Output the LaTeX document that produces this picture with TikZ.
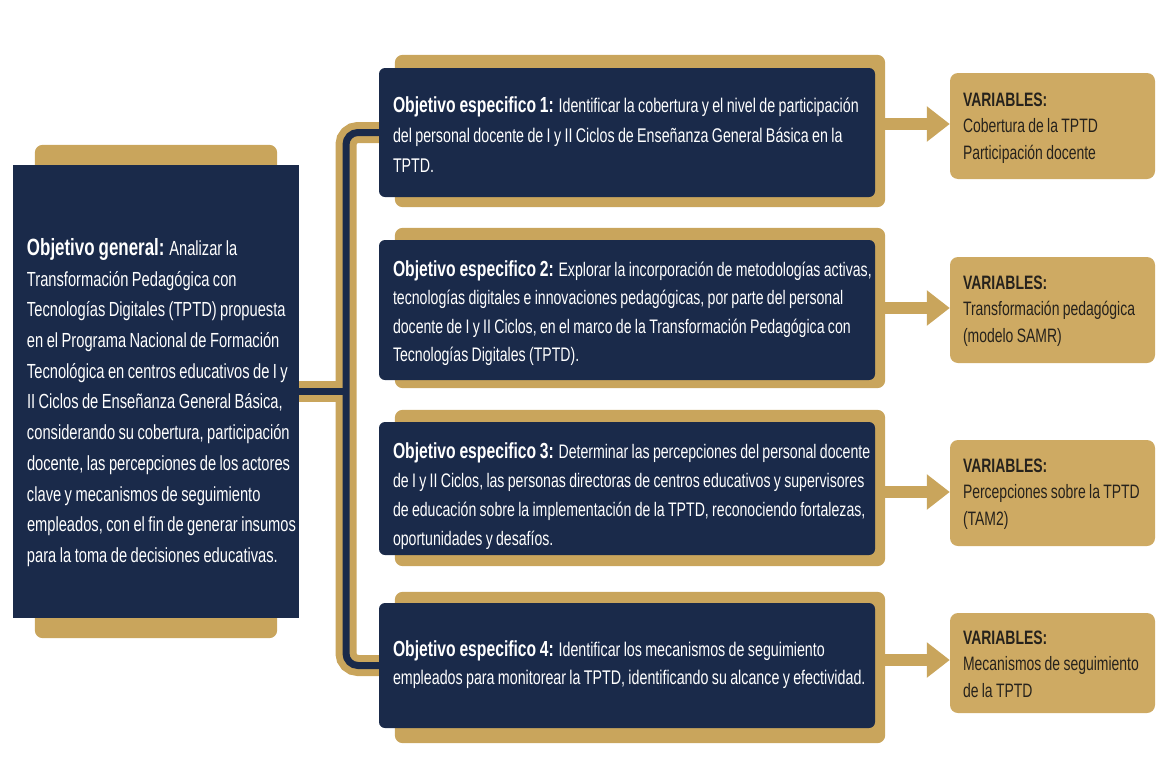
\documentclass[tikz,border=0pt]{standalone}
\usepackage{fontspec}
\setmainfont[FakeStretch=0.72,WordSpace=0.85]{Liberation Sans}
\usetikzlibrary{arrows.meta,calc,backgrounds}

\definecolor{navy}{RGB}{26,42,74}
\definecolor{gold}{RGB}{201,165,92}
\definecolor{sand}{RGB}{206,170,99}
\definecolor{ink}{RGB}{38,34,28}

\tikzset{
  general/.style={fill=navy, minimum width=286pt, minimum height=453pt, inner sep=0pt},
  goal/.style={fill=navy, rounded corners=6pt, minimum width=496pt, inner sep=0pt},
  goaltext/.style={text=white, align=left, inner sep=0pt, anchor=west},
  vars/.style={fill=sand, rounded corners=8pt, minimum width=205pt, inner sep=0pt},
  varstext/.style={text=ink, align=left, inner sep=0pt, anchor=west, font=\fontsize{19.4}{26.5}\selectfont},
  back/.style={fill=gold, rounded corners=8pt},
  bus/.style={line width=21pt, draw=gold, rounded corners=12pt},
  buscore/.style={line width=7pt, draw=navy, rounded corners=12pt},
  feed/.style={line width=12pt, draw=gold, -{Triangle[length=23pt,width=34pt]}},
}

\begin{document}
\begin{tikzpicture}[x=1pt, y=-1pt]
    \useasboundingbox (0,0) rectangle (1156,766);

    % objetivo general
    \node[general] (G) at (156,391.5) {};
    \node[goaltext, font=\fontsize{20.4}{30.7}\selectfont] (GT) at ($(G.west)+(14,11)$)
      {{\fontsize{23.5}{30}\selectfont\bfseries Objetivo general:} Analizar la\\
      Transformación Pedagógica con\\
      Tecnologías Digitales (TPTD) propuesta\\
      en el Programa Nacional de Formación\\
      Tecnológica en centros educativos de I y\\
      II Ciclos de Enseñanza General Básica,\\
      considerando su cobertura, participación\\
      docente, las percepciones de los actores\\
      clave y mecanismos de seguimiento\\
      empleados, con el fin de generar insumos\\
      para la toma de decisiones educativas.};

    % objetivos especificos
    \node[goal, minimum height=129pt] (O1) at (627,132.5) {};
    \node[goal, minimum height=140pt] (O2) at (627,310) {};
    \node[goal, minimum height=133pt] (O3) at (627,488.5) {};
    \node[goal, minimum height=125pt] (O4) at (627,665.5) {};

    \node[goaltext, font=\fontsize{19.8}{30}\selectfont] (T1) at ($(O1.west)+(14,2)$)
      {{\fontsize{21.8}{30}\selectfont\bfseries Objetivo especifico 1:} Identificar la cobertura y el nivel de participación\\
      del personal docente de I y II Ciclos de Enseñanza General Básica en la\\
      TPTD.};
    \node[goaltext, font=\fontsize{19.6}{28.5}\selectfont] (T2) at ($(O2.west)+(14,3)$)
      {{\fontsize{21.8}{28.5}\selectfont\bfseries Objetivo especifico 2:} Explorar la incorporación de metodologías activas,\\
      tecnologías digitales e innovaciones pedagógicas, por parte del personal\\
      docente de I y II Ciclos, en el marco de la Transformación Pedagógica con\\
      Tecnologías Digitales (TPTD).};
    \node[goaltext, font=\fontsize{19.6}{29}\selectfont] (T3) at ($(O3.west)+(14,8)$)
      {{\fontsize{21.8}{29}\selectfont\bfseries Objetivo especifico 3:} Determinar las percepciones del personal docente\\
      de I y II Ciclos, las personas directoras de centros educativos y supervisores\\
      de educación sobre la implementación de la TPTD, reconociendo fortalezas,\\
      oportunidades y desafíos.};
    \node[goaltext, font=\fontsize{19.8}{28}\selectfont] (T4) at ($(O4.west)+(14,-1)$)
      {{\fontsize{21.8}{28}\selectfont\bfseries Objetivo especifico 4:} Identificar los mecanismos de seguimiento\\
      empleados para monitorear la TPTD, identificando su alcance y efectividad.};

    % variables
    \node[vars, minimum height=106pt] (V1) at (1052.5,126) {};
    \node[vars, minimum height=106pt] (V2) at (1052.5,310) {};
    \node[vars, minimum height=106pt] (V3) at (1052.5,493) {};
    \node[vars, minimum height=100pt] (V4) at (1052.5,663) {};

    \node[varstext] (W1) at ($(V1.west)+(13,2)$) {\textbf{VARIABLES:}\\Cobertura de la TPTD\\Participación docente};
    \node[varstext] (W2) at ($(V2.west)+(13,1)$) {\textbf{VARIABLES:}\\Transformación pedagógica\\(modelo SAMR)};
    \node[varstext] (W3) at ($(V3.west)+(13,1)$) {\textbf{VARIABLES:}\\Percepciones sobre la TPTD\\(TAM2)};
    \node[varstext] (W4) at ($(V4.west)+(13,1)$) {\textbf{VARIABLES:}\\Mecanismos de seguimiento\\de la TPTD};

    \coordinate (spine) at (346,0);

    \begin{pgfonlayer}{background}
    % marcos dorados
    \path[back] ($(G.north west)+(22,-20)$) rectangle ($(G.south east)+(-22,20)$);
    \path[back] ($(O1.north west)+(16,-13)$) rectangle ($(O1.south east)+(10,10)$);
    \path[back] ($(O2.north west)+(16,-12)$) rectangle ($(O2.south east)+(10,8)$);
    \path[back] ($(O3.north west)+(16,-12)$) rectangle ($(O3.south east)+(10,11)$);
    \path[back] ($(O4.north west)+(16,-11)$) rectangle ($(O4.south east)+(10,15)$);

    % conector
    \draw[bus] (O1.west) -- (O1.west -| spine) -- (O4.west -| spine) -- (O4.west);
    \draw[bus] (G.east) -- (G.east -| spine);
    \draw[buscore] (O1.west) -- (O1.west -| spine) -- (O4.west -| spine) -- (O4.west);
    \draw[buscore] (G.east) -- (G.east -| spine);
    \end{pgfonlayer}

    % flechas
    \draw[feed] ($(V1.west)+(-65,-2)$) -- ($(V1.west)+(0,-2)$);
    \draw[feed] ($(V2.west)+(-65,-2)$) -- ($(V2.west)+(0,-2)$);
    \draw[feed] ($(V3.west)+(-65,-1)$) -- ($(V3.west)+(0,-1)$);
    \draw[feed] ($(V4.west)+(-65,-3)$) -- ($(V4.west)+(0,-3)$);

\end{tikzpicture}
\end{document}
